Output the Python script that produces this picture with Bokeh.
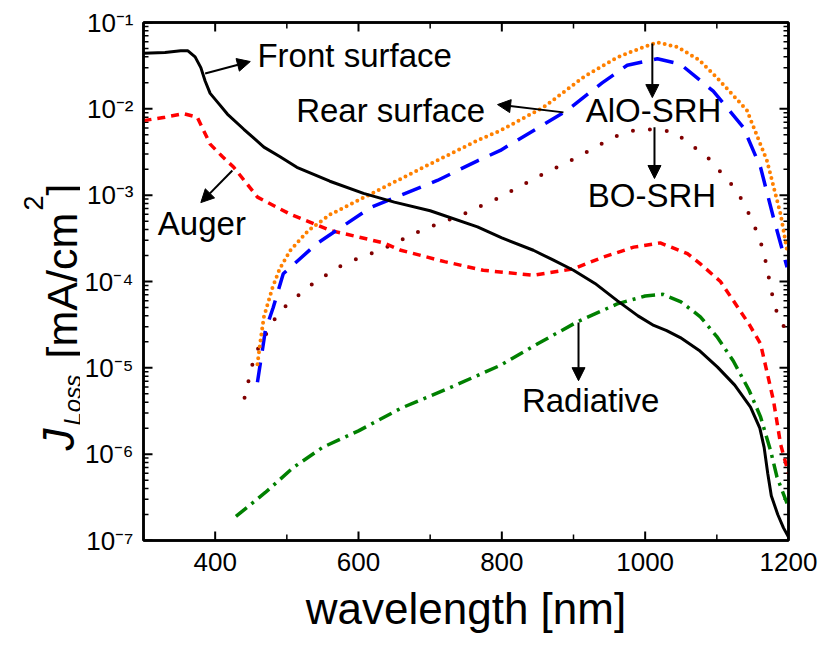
import numpy as np
from bokeh.plotting import figure
from bokeh.layouts import row
from bokeh.models import (FixedTicker, LogAxis, LinearAxis, Range1d, Label, Arrow,
                          NormalHead, CustomJSTickFormatter)
from bokeh.core.properties import value
from bokeh.embed import file_html
from bokeh.resources import INLINE

# ---- loss current density spectra [mA/cm^2] vs wavelength [nm] ----
front_wl = [300, 330, 352, 362, 372, 380, 386, 393, 405, 417, 440, 468, 490, 514, 560, 607, 650,
            700, 766, 800, 844, 870, 900, 930, 961, 990, 1012, 1030, 1049, 1075, 1101, 1125,
            1147, 1160, 1166, 1171, 1176, 1185, 1193, 1200]
front_j = [0.044, 0.045, 0.047, 0.047, 0.040, 0.030, 0.021, 0.0151, 0.0115, 0.0087, 0.0058,
           0.0036, 0.0028, 0.0021, 0.00145, 0.00105, 0.00083, 0.00066, 0.00043, 0.00032,
           0.00023, 0.00018, 0.000135, 0.000095, 0.00006, 0.00004, 0.000031, 0.000027,
           0.0000224, 0.000016, 0.0000102, 0.0000063, 0.0000035, 0.0000020, 0.0000012,
           0.00000060, 0.00000033, 0.00000020, 0.00000014, 0.00000011]

auger_wl = [300, 330, 356, 375, 393, 410, 426, 459, 505, 561, 635, 659, 720, 774, 844, 900,
            940, 984, 1021, 1059, 1077, 1105, 1123, 1145, 1161, 1179, 1189, 1200]
auger_j = [0.0073, 0.0080, 0.0088, 0.0080, 0.0039, 0.0028, 0.0021, 0.00095, 0.0006, 0.00039,
           0.00028, 0.00023, 0.00017, 0.000135, 0.000118, 0.00014, 0.00019, 0.00025, 0.00028,
           0.00021, 0.00016, 0.0001, 0.00006, 0.000032, 0.000019, 0.0000042, 0.0000013,
           0.0000006]

rad_wl = [429, 470, 509, 550, 600, 659, 730, 798, 850, 905, 961, 1000, 1025, 1050, 1077, 1100,
          1123, 1145, 1161, 1175, 1184, 1198]
rad_j = [1.9e-7, 3.6e-7, 7.0e-7, 1.2e-6, 1.86e-6, 3.4e-6, 6.0e-6, 1.07e-5, 1.9e-5, 3.4e-5,
         5.5e-5, 6.8e-5, 7.1e-5, 5.8e-5, 3.9e-5, 2.3e-5, 1.2e-5, 5.5e-6, 2.7e-6, 1.1e-6,
         5.4e-7, 2.7e-7]

rear_wl = [459, 463, 468, 480, 490, 505, 530, 561, 617, 700, 766, 798, 858, 914, 960, 984,
           1017, 1045, 1075, 1100, 1142, 1170, 1189, 1198]
rear_j = [1.1e-5, 2.0e-5, 3.9e-5, 8.5e-5, 1.4e-4, 2.3e-4, 3.9e-4, 6.0e-4, 1.03e-3, 2.3e-3,
          4.3e-3, 5.6e-3, 1.04e-2, 2.33e-2, 3.9e-2, 4.7e-2, 5.9e-2, 5.2e-2, 3.7e-2, 2.3e-2,
          9.6e-3, 2.5e-3, 6.0e-4, 2.3e-4]

alo_wl = [459, 470, 481, 495, 542, 617, 710, 766, 798, 891, 940, 975, 1017, 1049, 1095,
          1137, 1161, 1179, 1198]
alo_j = [6.8e-6, 2.7e-5, 5.0e-5, 1.23e-4, 2.75e-4, 7.2e-4, 1.48e-3, 2.5e-3, 3.3e-3, 9.6e-3,
         2.0e-2, 3.2e-2, 3.8e-2, 3.3e-2, 1.6e-2, 6.1e-3, 2.1e-3, 5.5e-4, 1.46e-4]

bo_wl = [441, 455, 481, 500, 540, 580, 635, 687, 742, 798, 849, 905, 956, 984, 1010, 1040,
         1087, 1128, 1150, 1165, 1177, 1185, 1198]
bo_j = [4.5e-6, 1.4e-5, 3.5e-5, 5.4e-5, 1.0e-4, 1.6e-4, 2.4e-4, 3.9e-4, 5.8e-4, 9.5e-4,
        1.62e-3, 2.75e-3, 4.7e-3, 5.6e-3, 5.8e-3, 5.4e-3, 2.75e-3, 1.13e-3, 5.0e-4, 2.3e-4,
        7.2e-5, 4.0e-5, 2.6e-5]

x_major = [400, 600, 800, 1000, 1200]
x_minor = [300, 500, 700, 900, 1100]
y_decades = [-7, -6, -5, -4, -3, -2, -1]

FONT = "Liberation Sans"
W, H = 818, 646
TITLE_W = 80                      # strip on the left that holds the rotated y title
B_LEFT, B_RIGHT, B_TOP, B_BOTTOM = 143, 30, 22, 106

XMIN, XMAX = 300, 1200
YMIN, YMAX = 1e-7, 1e-1
FRAME_W = W - B_LEFT - B_RIGHT
FRAME_H = H - B_TOP - B_BOTTOM

p = figure(width=W - TITLE_W, height=H, x_range=Range1d(XMIN, XMAX),
           y_range=Range1d(YMIN, YMAX), y_axis_type="log", output_backend="svg",
           toolbar_location=None, min_border_left=B_LEFT - TITLE_W, min_border_right=B_RIGHT,
           min_border_top=B_TOP, min_border_bottom=B_BOTTOM)
p.background_fill_color = "white"
p.border_fill_color = "white"
p.xgrid.visible = False
p.ygrid.visible = False
p.outline_line_color = "black"
p.outline_line_width = 2.5

xt = FixedTicker(ticks=x_major, minor_ticks=x_minor)
ymaj = [10.0 ** d for d in y_decades]
ymin = [m * 10.0 ** d for d in y_decades[:-1] for m in range(2, 10)]
yt = FixedTicker(ticks=ymaj, minor_ticks=ymin)

sup_fmt = CustomJSTickFormatter(code="""
const sup = {'-':'\u207b','0':'\u2070','1':'\u00b9','2':'\u00b2','3':'\u00b3','4':'\u2074',
             '5':'\u2075','6':'\u2076','7':'\u2077','8':'\u2078','9':'\u2079'};
const e = Math.round(Math.log10(tick));
return '10' + String(e).split('').map(c => sup[c]).join('');
""")

def style_axis(ax):
    ax.axis_line_width = 2.5
    ax.axis_line_color = "black"
    ax.major_tick_in = 0
    ax.major_tick_out = 0
    ax.minor_tick_in = 0
    ax.minor_tick_out = 0
    ax.major_label_text_font = FONT
    ax.major_label_text_font_size = "26px"
    ax.major_label_text_color = "black"

p.xaxis.ticker = xt
p.yaxis.ticker = yt
p.yaxis.formatter = sup_fmt
style_axis(p.xaxis[0])
style_axis(p.yaxis[0])
p.xaxis.major_label_standoff = 12
p.yaxis.major_label_standoff = 10
p.xaxis.axis_label = "wavelength [nm]"
p.xaxis.axis_label_text_font = FONT
p.xaxis.axis_label_text_font_size = "44px"
p.xaxis.axis_label_text_font_style = "normal"
p.xaxis.axis_label_text_color = "black"
p.xaxis.axis_label_standoff = 10

# mirrored label-less axes on top and right
top = LinearAxis(ticker=xt)
right = LogAxis(ticker=yt)
for ax in (top, right):
    style_axis(ax)
    ax.major_label_text_font_size = "1px"
    ax.major_label_text_alpha = 0
    ax.major_label_standoff = 0
p.add_layout(top, "above")
p.add_layout(right, "right")

# inward tick marks on all four sides (length given in pixels, converted to data units)
nm_per_px = (XMAX - XMIN) / FRAME_W
dec_per_px = np.log10(YMAX / YMIN) / FRAME_H

def xticks(tk, ln, lw):
    tk = np.asarray(tk, float)
    up = 10 ** (ln * dec_per_px)
    p.segment(x0=tk, y0=np.full_like(tk, YMIN), x1=tk, y1=np.full_like(tk, YMIN * up),
              line_color="black", line_width=lw)
    p.segment(x0=tk, y0=np.full_like(tk, YMAX), x1=tk, y1=np.full_like(tk, YMAX / up),
              line_color="black", line_width=lw)

def yticks(tk, ln, lw):
    tk = np.asarray(tk, float)
    dx = ln * nm_per_px
    p.segment(x0=np.full_like(tk, XMIN), y0=tk, x1=np.full_like(tk, XMIN + dx), y1=tk,
              line_color="black", line_width=lw)
    p.segment(x0=np.full_like(tk, XMAX), y0=tk, x1=np.full_like(tk, XMAX - dx), y1=tk,
              line_color="black", line_width=lw)

xticks(x_major, 9, 2)
xticks(x_minor, 6, 1.5)
yticks(ymaj, 9, 2)
yticks(ymin, 5, 1.5)

# curves
p.line(bo_wl, bo_j, line_color="#800000", line_width=4, line_dash="0 17", line_cap="round")
p.line(rad_wl, rad_j, line_color="#008000", line_width=3.5, line_dash="14 6 3 6")
p.line(auger_wl, auger_j, line_color="#FF0000", line_width=3.5, line_dash="8 6")
p.line(alo_wl, alo_j, line_color="#0000FF", line_width=3.5, line_dash="20 12")
p.line(rear_wl, rear_j, line_color="#FF8000", line_width=4, line_dash="0 6", line_cap="round")
p.line(front_wl, front_j, line_color="black", line_width=3)

# curve names
def note(text, x, y):
    p.add_layout(Label(x=x, y=y, text=text, text_font=FONT, text_font_size="33px",
                       text_color="black", text_baseline="middle", text_align="left"))

note("Front surface", 459, 0.0415)
note("Rear surface", 513, 0.0095)
note("AlO-SRH", 917, 0.0095)
note("BO-SRH", 920, 9.9e-4)
note("Auger", 320, 4.7e-4)
note("Radiative", 828, 4.2e-6)

def arrow(x0, y0, x1, y1):
    p.add_layout(Arrow(end=NormalHead(size=13, line_color="black", fill_color="black"),
                       x_start=x0, y_start=y0, x_end=x1, y_end=y1,
                       line_color="black", line_width=2))

arrow(386, 0.0257, 449, 0.0353)     # front surface
arrow(886, 0.0091, 794, 0.0112)     # rear surface
arrow(1010, 0.057, 1010, 0.0135)    # AlO-SRH
arrow(1013, 0.0061, 1013, 0.00156)  # BO-SRH
arrow(424, 0.00193, 380, 0.00082)   # Auger
arrow(907, 3.34e-5, 907, 7.1e-6)    # radiative

# ---- left strip with the rotated title J_Loss [mA/cm^2]; coordinates are pixels,
#      y measured from the top of the page ----
t = figure(width=TITLE_W, height=H, x_range=Range1d(0, TITLE_W),
           y_range=Range1d(H - B_TOP, B_TOP + FRAME_H - FRAME_H),
           output_backend="svg", toolbar_location=None, x_axis_location=None,
           y_axis_location=None, min_border_left=0, min_border_right=0,
           min_border_top=B_TOP, min_border_bottom=B_BOTTOM)
t.y_range = Range1d(B_TOP, H - B_BOTTOM)     # frame spans page rows B_TOP .. H-B_BOTTOM
t.outline_line_color = None
t.background_fill_color = "white"
t.border_fill_color = "white"
t.xgrid.visible = False
t.ygrid.visible = False

def title_part(text, x, y_from_top, size, style="normal"):
    # y range runs bottom->top, so flip the page row into it
    t.text(x=[x], y=[B_TOP + (H - B_BOTTOM) - y_from_top], text=[text], angle=np.pi / 2,
           text_font=value(FONT), text_font_size=size, text_font_style=style,
           text_color="black", text_align="left", text_baseline="alphabetic")

title_part("J", 58, 450, "44px", "italic")
title_part("Loss", 72, 425, "24px", "italic")
title_part("[mA/cm", 61, 358, "43px")
title_part("2", 33, 210, "27px")
title_part("]", 61, 195, "43px")

layout = row(t, p)
open("out.html", "w").write(file_html(layout, INLINE))
